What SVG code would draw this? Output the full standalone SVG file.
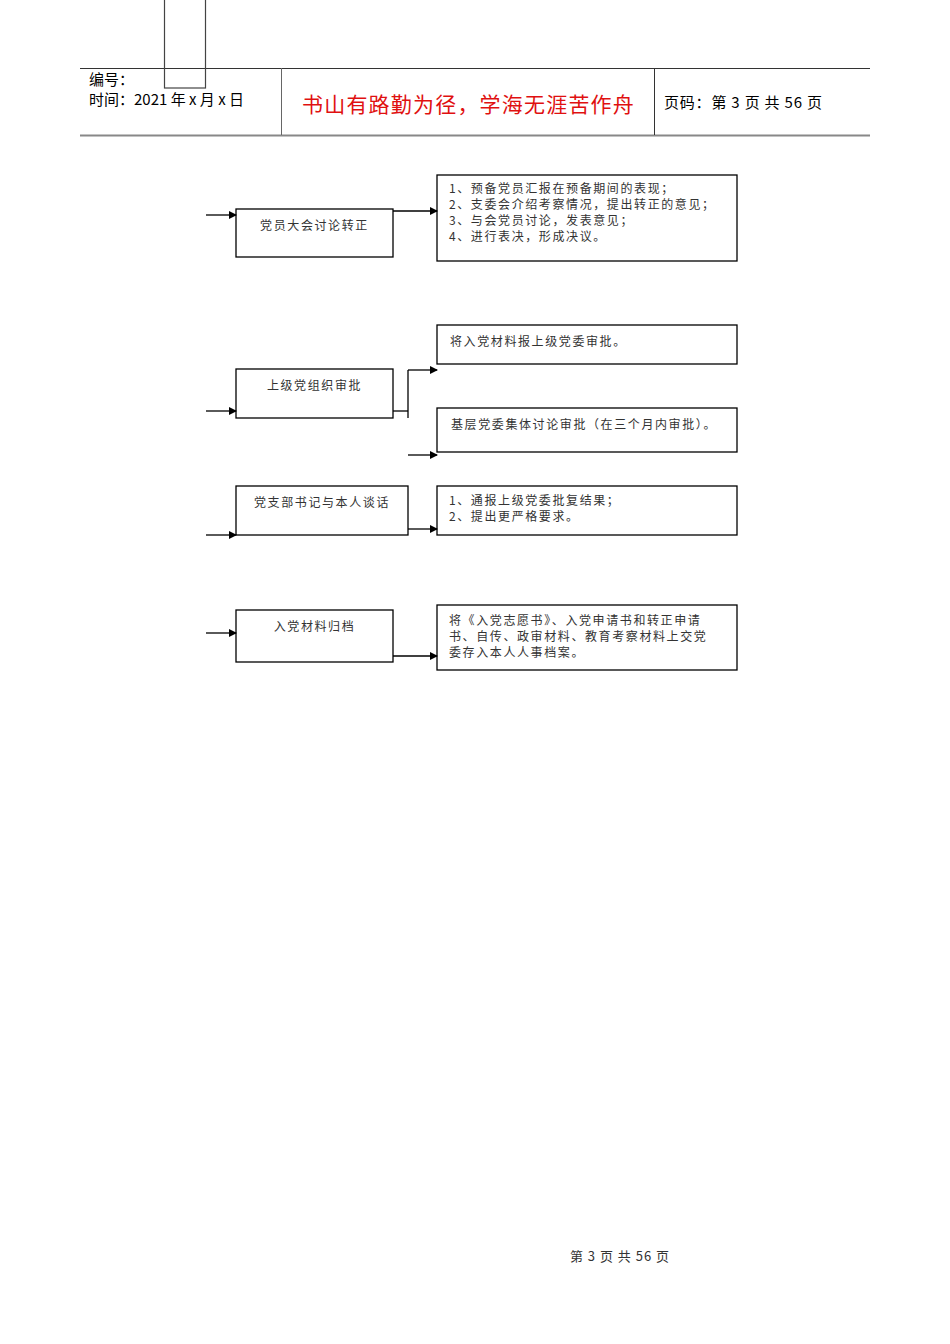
<svg xmlns="http://www.w3.org/2000/svg" width="950" height="1344" viewBox="0 0 950 1344">
<style>
.b{fill:#fff;stroke:#000;stroke-width:1.3}
.t{font-family:"Noto Sans CJK SC","Liberation Serif",serif;font-size:12px;letter-spacing:1.6px;fill:#333}
.h{font-family:"Noto Sans CJK SC","Liberation Sans",sans-serif;font-size:15px;fill:#000}
.c line,.c polyline{stroke:#000;stroke-width:1.3;fill:none}
</style>
<defs><marker id="a" markerWidth="8" markerHeight="8" refX="7" refY="4" orient="auto" markerUnits="userSpaceOnUse"><path d="M0,0 L8,4 L0,8 z" fill="#000"/></marker></defs>
<rect width="950" height="1344" fill="#fff"/>
<g id="header">
<line x1="80" y1="68.5" x2="870" y2="68.5" stroke="#333"/>
<line x1="80" y1="135.5" x2="870" y2="135.5" stroke="#888" stroke-width="2"/>
<line x1="281.5" y1="68" x2="281.5" y2="135" stroke="#666"/>
<line x1="654.5" y1="68" x2="654.5" y2="135" stroke="#333"/>
<rect x="164.5" y="-1" width="41" height="89" fill="none" stroke="#444" stroke-width="1.2"/>
<text class="h" x="89" y="85">编号：</text>
<text class="h" x="89" y="105">时间：2021 年 x 月 x 日</text>
<text x="302" y="112" font-family="Noto Sans CJK SC,sans-serif" font-size="21" letter-spacing="1.2" fill="#e01010">书山有路勤为径，学海无涯苦作舟</text>
<text class="h" x="664" y="108" letter-spacing="0.8">页码：第 3 页  共 56 页</text>
</g>
<g id="n1"><rect class="b" x="236" y="209" width="157" height="48"/><text class="t" x="314.5" y="230" text-anchor="middle">党员大会讨论转正</text></g>
<g id="r1"><rect class="b" x="437" y="175" width="300" height="86"/>
<text class="t" x="449" y="193">1、预备党员汇报在预备期间的表现；</text>
<text class="t" x="449" y="209">2、支委会介绍考察情况，提出转正的意见；</text>
<text class="t" x="449" y="225">3、与会党员讨论，发表意见；</text>
<text class="t" x="449" y="241">4、进行表决，形成决议。</text></g>
<g id="n2"><rect class="b" x="236" y="369" width="157" height="49"/><text class="t" x="314.5" y="390" text-anchor="middle">上级党组织审批</text></g>
<g id="r2a"><rect class="b" x="437" y="325" width="300" height="39"/><text class="t" x="450" y="346">将入党材料报上级党委审批。</text></g>
<g id="r2b"><rect class="b" x="437" y="408" width="300" height="44"/><text class="t" x="451" y="429">基层党委集体讨论审批（在三个月内审批）。</text></g>
<g id="n3"><rect class="b" x="236" y="486" width="172" height="49"/><text class="t" x="322" y="507" text-anchor="middle">党支部书记与本人谈话</text></g>
<g id="r3"><rect class="b" x="437" y="486" width="300" height="49"/>
<text class="t" x="449" y="505">1、通报上级党委批复结果；</text>
<text class="t" x="449" y="521">2、提出更严格要求。</text></g>
<g id="n4"><rect class="b" x="236" y="610" width="157" height="52"/><text class="t" x="314.5" y="631" text-anchor="middle">入党材料归档</text></g>
<g id="r4"><rect class="b" x="437" y="605" width="300" height="65"/>
<text class="t" x="449" y="625">将《入党志愿书》、入党申请书和转正申请</text>
<text class="t" x="449" y="641">书、自传、政审材料、教育考察材料上交党</text>
<text class="t" x="449" y="657">委存入本人人事档案。</text></g>
<g class="c" id="connectors">
<line x1="206" y1="215" x2="236" y2="215" marker-end="url(#a)"/>
<line x1="393" y1="211" x2="437" y2="211" marker-end="url(#a)"/>
<line x1="206" y1="411" x2="236" y2="411" marker-end="url(#a)"/>
<line x1="393" y1="411" x2="408" y2="411"/>
<line x1="408" y1="370" x2="408" y2="418"/>
<line x1="408" y1="370" x2="437" y2="370" marker-end="url(#a)"/>
<line x1="408" y1="455" x2="437" y2="455" marker-end="url(#a)"/>
<line x1="206" y1="535" x2="236" y2="535" marker-end="url(#a)"/>
<line x1="408" y1="529" x2="437" y2="529" marker-end="url(#a)"/>
<line x1="206" y1="633" x2="236" y2="633" marker-end="url(#a)"/>
<line x1="393" y1="656" x2="437" y2="656" marker-end="url(#a)"/>
</g>
<text x="620" y="1261" text-anchor="middle" font-family="Noto Sans CJK SC,serif" font-size="13" letter-spacing="1" fill="#333">第  3  页  共  56  页</text>
</svg>
